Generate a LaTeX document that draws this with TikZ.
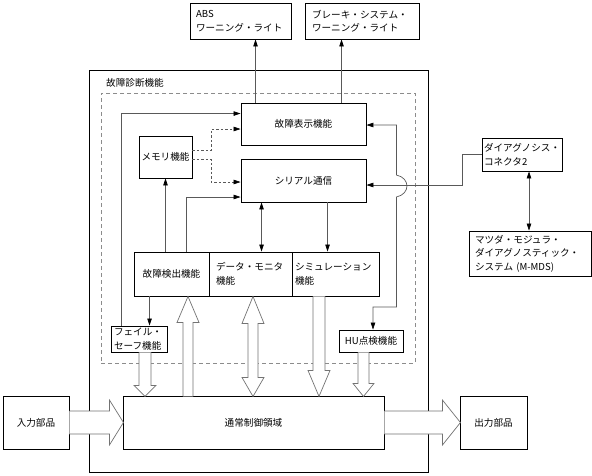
\documentclass[tikz,border=0pt]{standalone}
\usepackage{fontspec}
\setmainfont{Noto Sans CJK JP}
\usetikzlibrary{arrows.meta,calc}
\tikzset{
  box/.style={draw=black, line width=0.9pt, fill=white, inner sep=0pt,
    font=\fontsize{9.6}{13.5}\selectfont},
  conn/.style={draw=black!65, line width=0.7pt},
  dconn/.style={conn, dash pattern=on 2.5pt off 2pt},
  hollow/.style={draw=black!55, line width=0.7pt, fill=white},
  >={Triangle[length=7pt,width=4.5pt,color=black]}
}
\begin{document}
\begin{tikzpicture}[x=1pt,y=-1pt]
\useasboundingbox (0,0) rectangle (592,475);
% frames
\node[draw=black, line width=0.9pt, minimum width=339pt, minimum height=402pt, inner sep=0pt] (outer) at (258.5,271) {};
\node[draw=black!45, line width=0.8pt, dash pattern=on 4pt off 3pt, minimum width=314pt, minimum height=270pt, inner sep=0pt] (dbox) at (258,228) {};
\node[anchor=west, inner sep=0pt, font=\fontsize{9.6}{12}\selectfont] (lbl) at (106,83) {故障診断機能};
% boxes
\node[box, minimum width=101pt, minimum height=36pt, text width=89pt, align=left] (abs) at (240.5,21) {ABS\\ワーニング・ライト};
\node[box, minimum width=114pt, minimum height=36pt, text width=100pt, align=left] (brk) at (362,21) {ブレーキ・システム・\\ワーニング・ライト};
\node[box, minimum width=125pt, minimum height=42pt] (fd) at (303.5,124) {故障表示機能};
\node[box, minimum width=125pt, minimum height=43pt] (ser) at (303.5,180.5) {シリアル通信};
\node[box, minimum width=53pt, minimum height=42pt] (mem) at (165.5,157) {メモリ機能};
\node[box, minimum width=75pt, minimum height=44pt] (det) at (171.5,274) {故障検出機能};
\node[box, minimum width=83pt, minimum height=44pt, text width=69pt, align=left] (mon) at (250.5,274) {データ・モニタ\\機能};
\node[box, minimum width=87pt, minimum height=44pt, text width=81pt, align=left] (sim) at (335.5,274) {シミュレーション\\機能};
\node[box, minimum width=56pt, minimum height=26pt, text width=50pt, align=left] (fs) at (139,339) {フェイル・\\セーフ機能};
\node[box, minimum width=64pt, minimum height=22pt] (hu) at (371,341) {HU点検機能};
\node[box, minimum width=261pt, minimum height=53pt] (ctrl) at (253.5,422.5) {通常制御領域};
\node[box, minimum width=66pt, minimum height=53pt] (in) at (36,422.5) {入力部品};
\node[box, minimum width=67pt, minimum height=53pt] (out) at (493.5,422.5) {出力部品};
\node[box, minimum width=80pt, minimum height=33pt, text width=76pt, align=left] (diag) at (522,154.5) {ダイアグノシス・\\コネクタ2};
\node[box, minimum width=122pt, minimum height=45pt, text width=110pt, align=left] (mmds) at (530,253.5) {マツダ・モジュラ・\\ダイアグノスティック・\\システム (M-MDS)};
% connectors
\coordinate (a1) at ($(fd.north west)+(15,0)$);
\coordinate (a2) at ($(fd.north west)+(101,0)$);
\draw[conn,->] (a1) -- (a1 |- abs.south);
\draw[conn,->] (a2) -- (a2 |- brk.south);
\draw[conn,->] ($(fs.north west)+(11,0)$) |- ($(fd.north west)+(0,11)$);
\draw[dconn,->] ($(mem.east)+(0,-7)$) -- ++(19,0) |- ($(fd.west)+(0,5)$);
\draw[dconn,->] ($(mem.east)+(0,2)$) -- ++(19,0) |- ($(ser.west)+(0,1.5)$);
\draw[conn,->] (det.north -| mem.south) -- (mem.south);
\draw[conn,->] ($(det.north west)+(53,0)$) |- ($(ser.west)+(0,16.5)$);
\coordinate (s1) at ($(ser.south west)+(87,0)$);
\coordinate (s2) at ($(ser.south west)+(21,0)$);
\coordinate (s3) at ($(det.south west)+(16,0)$);
\draw[conn,->] (s1) -- (s1 |- sim.north);
\draw[conn,<->] (s2) -- (s2 |- mon.north);
\draw[conn,->] (s3) -- (s3 |- fs.north);
\draw[conn,<->] ($(fd.east)+(0,1)$) -- ++(30,0) -- ++(0,50)
  .. controls +(14,3) and +(14,-3) .. ++(0,22) -- ++(0,110) -| ($(hu.north)+(2,0)$);
\draw[conn,->] (diag.west) -- ++(-19,0) |- ($(ser.east)+(0,4.5)$);
\draw[conn,<->] ($(diag.south)+(7,0)$) -- ($(mmds.north)+(-1,0)$);
% hollow arrows
\draw[hollow] (fs.south) -- ++(0,33) -- ++(-5,0) -- ++(11,11) -- ++(11,-11) -- ++(-5,0) -- ++(0,-33);
\draw[hollow] ($(det.south)+(11.5,100)$) -- ++(0,-74) -- ++(-6,0) -- ++(11,-26) -- ++(11,26) -- ++(-6,0) -- ++(0,74);
\draw[hollow] ($(mon.south)+(2.5,0)$) -- ++(11,27) -- ++(-6,0) -- ++(0,54) -- ++(6,0) -- ++(-11,19) -- ++(-11,-19) -- ++(6,0) -- ++(0,-54) -- ++(-6,0) -- cycle;
\draw[hollow] ($(sim.south)+(-22.5,0)$) -- ++(0,74) -- ++(-5,0) -- ++(11,26) -- ++(11,-26) -- ++(-5,0) -- ++(0,-74);
\draw[hollow] ($(hu.south)+(-13,0)$) -- ++(0,31) -- ++(-5,0) -- ++(10.5,13) -- ++(10.5,-13) -- ++(-5,0) -- ++(0,-31);
\draw[hollow] ($(in.east)+(0,-11.5)$) -- ++(40,0) -- ++(0,-11) -- ++(14,22.5) -- ++(-14,22.5) -- ++(0,-11) -- ++(-40,0);
\draw[hollow] ($(ctrl.east)+(0,-11.5)$) -- ++(58,0) -- ++(0,-11) -- ++(18,22.5) -- ++(-18,22.5) -- ++(0,-11) -- ++(-58,0);
\end{tikzpicture}
\end{document}
